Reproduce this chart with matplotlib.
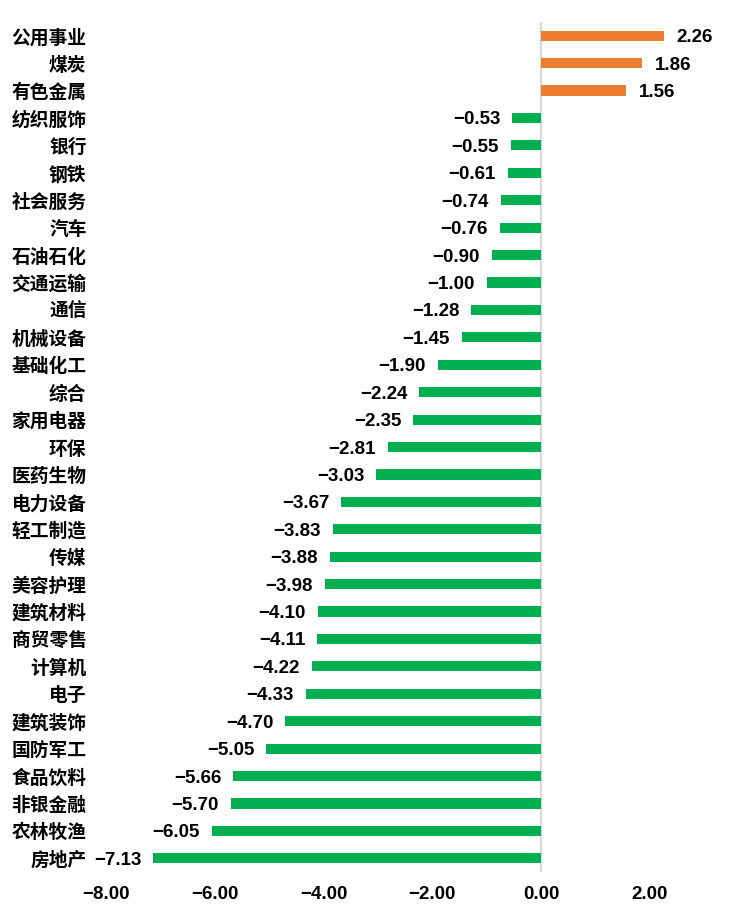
import matplotlib
matplotlib.use("Agg")
import matplotlib.pyplot as plt
from matplotlib.ticker import FuncFormatter

categories = ["公用事业", "煤炭", "有色金属", "纺织服饰", "银行", "钢铁", "社会服务", "汽车",
              "石油石化", "交通运输", "通信", "机械设备", "基础化工", "综合", "家用电器", "环保",
              "医药生物", "电力设备", "轻工制造", "传媒", "美容护理", "建筑材料", "商贸零售",
              "计算机", "电子", "建筑装饰", "国防军工", "食品饮料", "非银金融", "农林牧渔", "房地产"]
values = [2.26, 1.86, 1.56, -0.53, -0.55, -0.61, -0.74, -0.76, -0.90, -1.00, -1.28, -1.45,
          -1.90, -2.24, -2.35, -2.81, -3.03, -3.67, -3.83, -3.88, -3.98, -4.10, -4.11, -4.22,
          -4.33, -4.70, -5.05, -5.66, -5.70, -6.05, -7.13]
xticks = [-8, -6, -4, -2, 0, 2]

num_font = ["Liberation Sans", "DejaVu Sans"]
cjk_font = ["Noto Sans CJK SC", "DejaVu Sans"]

def fmt(v):
    s = f"{abs(v):.2f}"
    return ("\u2212" + s) if v < 0 else s

fig = plt.figure(figsize=(7.37, 9.17), dpi=100)
ax = fig.add_axes([0.1438, 0.049, 0.782, 0.927])

ypos = list(range(len(categories)))
colors = ["#ED7D31" if v > 0 else "#00B050" for v in values]
ax.barh(ypos, values, height=0.37, color=colors, zorder=2)
ax.set_ylim(len(categories) - 0.5, -0.5)
ax.set_xlim(-8, 2.6)

for y, v in zip(ypos, values):
    if v >= 0:
        ax.annotate(fmt(v), (v, y), xytext=(13, 0), textcoords="offset pixels",
                    ha="left", va="center_baseline", fontsize=13.5, fontweight="bold",
                    family=num_font, annotation_clip=False)
    else:
        ax.annotate(fmt(v), (v, y), xytext=(-12, 0), textcoords="offset pixels",
                    ha="right", va="center_baseline", fontsize=13.5, fontweight="bold",
                    family=num_font, annotation_clip=False)

ax.set_yticks(ypos)
ax.set_yticklabels(categories, fontsize=13.5, fontweight="bold", family=cjk_font)
ax.set_xticks(xticks)
ax.xaxis.set_major_formatter(FuncFormatter(lambda v, p: fmt(v)))
for lab in ax.get_xticklabels():
    lab.set_family(num_font)
    lab.set_fontweight("bold")
    lab.set_fontsize(13.5)
ax.tick_params(axis="y", length=0, pad=14)
ax.tick_params(axis="x", length=0, pad=10)

for s in ax.spines.values():
    s.set_visible(False)
ax.axvline(0, color="#D9D9D9", linewidth=1.5, zorder=1)

fig.savefig("out.png", dpi=100)
